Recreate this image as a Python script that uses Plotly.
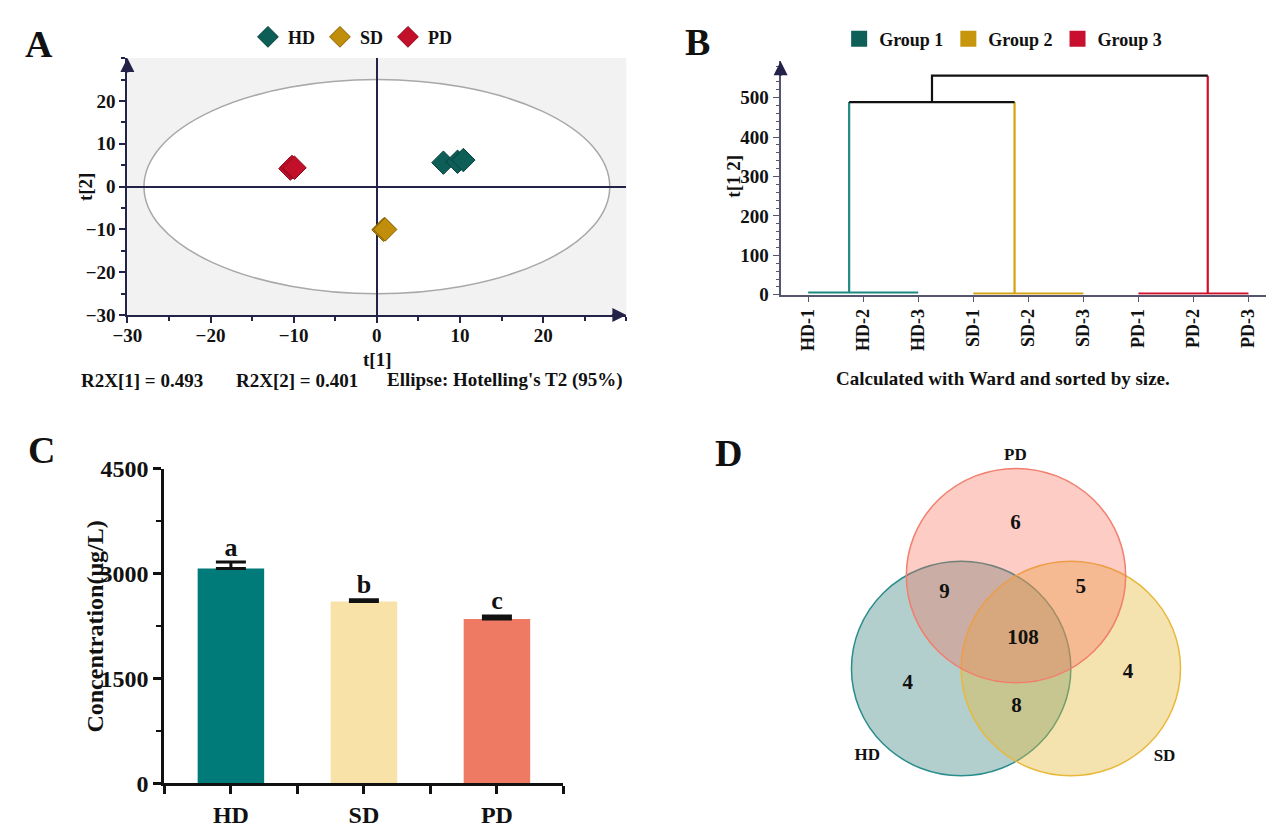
import numpy as np
import plotly.graph_objects as go

FONT = "Liberation Serif, Times New Roman, serif"
W, H = 1266, 828
NAVY = "#23234a"

# ---------------- data ----------------
# Panel A: PCA scores
hd_t1 = [8.0, 9.7, 10.4]
hd_t2 = [5.6, 5.8, 6.2]
sd_t1 = [0.8, 0.9, 1.0]
sd_t2 = [-10.1, -9.9, -10.0]
pd_t1 = [-10.4, -10.2, -9.9]
pd_t2 = [4.2, 4.6, 4.4]
r2x = [0.493, 0.401]
hotelling_t1 = 28.0
hotelling_t2 = 25.0

# Panel B: dendrogram (Ward)
leaf_labels = ["HD-1", "HD-2", "HD-3", "SD-1", "SD-2", "SD-3", "PD-1", "PD-2", "PD-3"]
group_names = ["Group 1", "Group 2", "Group 3"]
group_leaf_first = [1, 4, 7]
group_leaf_last = [3, 6, 9]
group_within_height = [5.9, 3.4, 3.4]
group_stem_x = [1.745, 4.75, 8.26]
merge12_height = 488.7
merge12_x = 3.25
merge123_height = 555.6

# Panel C: concentration
conc_groups = ["HD", "SD", "PD"]
conc_mean = [3072, 2602, 2349]
conc_err = [93, 24, 46]
sig_letters = ["a", "b", "c"]

# Panel D: Venn counts
venn_sets = ["PD", "HD", "SD"]
venn_only = [6, 4, 4]          # PD only, HD only, SD only
venn_pd_hd = 9
venn_pd_sd = 5
venn_hd_sd = 8
venn_all = 108

# ---------------- styles ----------------
grp_marker = {"HD": "#0E5E58", "SD": "#C08E0A", "PD": "#C3102A"}
grp_edge = {"HD": "#07403b", "SD": "#8a6405", "PD": "#8a0a1c"}
dendro_colors = ["#1F8A80", "#D4A20C", "#D0102A"]
legend_sq = ["#0D5F58", "#C8960C", "#C8102E"]
bar_colors = ["#007B7A", "#F8E2A8", "#EF7A63"]
venn_fill = {"PD": "rgba(245,110,90,0.35)", "HD": "rgba(20,105,100,0.32)", "SD": "rgba(230,185,55,0.40)"}
venn_line = {"PD": "#F07F6E", "HD": "#2A8C8C", "SD": "#E8B83C"}


def px(xp):
    return xp / W


def py(yp):
    return 1 - yp / H


fig = go.Figure()

# ---------------- Panel A ----------------
for name, xs, ys in [("HD", hd_t1, hd_t2), ("SD", sd_t1, sd_t2), ("PD", pd_t1, pd_t2)]:
    fig.add_trace(go.Scatter(
        x=xs, y=ys, mode="markers", name=name, legend="legend",
        marker=dict(symbol="diamond", size=18, color=grp_marker[name],
                    line=dict(color=grp_edge[name], width=1)),
        xaxis="x", yaxis="y", cliponaxis=False))

# ---------------- Panel B ----------------
for i, g in enumerate(group_names):
    c = dendro_colors[i]
    xs = [group_leaf_first[i], group_leaf_last[i], None,
          group_stem_x[i], group_stem_x[i]]
    top = merge12_height if i < 2 else merge123_height
    ys = [group_within_height[i], group_within_height[i], None,
          group_within_height[i], top]
    fig.add_trace(go.Scatter(x=xs, y=ys, mode="lines", line=dict(color=c, width=2.2),
                             showlegend=False, xaxis="x2", yaxis="y2", hoverinfo="skip"))
bx = [group_stem_x[0], group_stem_x[1], None, merge12_x, merge12_x, group_stem_x[2]]
by = [merge12_height, merge12_height, None, merge12_height, merge123_height, merge123_height]
fig.add_trace(go.Scatter(x=bx, y=by, mode="lines", line=dict(color="#111111", width=2.2),
                         showlegend=False, xaxis="x2", yaxis="y2", hoverinfo="skip"))
for i, g in enumerate(group_names):
    fig.add_trace(go.Scatter(x=[None], y=[None], mode="markers", name=g, legend="legend2",
                             marker=dict(symbol="square", size=17, color=legend_sq[i]),
                             xaxis="x2", yaxis="y2"))

# ---------------- Panel C ----------------
cx = list(range(len(conc_groups)))
fig.add_trace(go.Bar(
    x=cx, y=conc_mean, width=0.5, marker=dict(color=bar_colors, line=dict(width=0)),
    error_y=dict(type="data", symmetric=False, array=conc_err, arrayminus=[0] * 3,
                 color="#111111", thickness=3, width=15),
    showlegend=False, xaxis="x3", yaxis="y3"))
fig.add_trace(go.Scatter(
    x=cx, y=[m + e for m, e in zip(conc_mean, conc_err)], mode="text",
    text=sig_letters, textposition="top center",
    textfont=dict(size=26, family=FONT, color="#111111", weight="bold"),
    showlegend=False, xaxis="x3", yaxis="y3", cliponaxis=False))

# ---------------- Panel D ----------------
d = 1 / np.sqrt(3)
centers = {"PD": (0.0, d), "HD": (-0.5, -d / 2), "SD": (0.5, -d / 2)}
venn_shapes = []
for s in ["HD", "SD", "PD"]:
    cxx, cyy = centers[s]
    venn_shapes.append(dict(type="circle", xref="x4", yref="y4",
                            x0=cxx - 1, x1=cxx + 1, y0=cyy - 1, y1=cyy + 1,
                            fillcolor=venn_fill[s], line=dict(color=venn_line[s], width=1.5),
                            layer="below"))
region_pos = [(-0.005, 1.064), (-0.987, -0.430), (1.022, -0.332),
              (-0.652, 0.418), (0.591, 0.463), (0.004, -0.644), (0.064, -0.012)]
region_vals = venn_only + [venn_pd_hd, venn_pd_sd, venn_hd_sd, venn_all]
fig.add_trace(go.Scatter(
    x=[p[0] for p in region_pos], y=[p[1] for p in region_pos], mode="text",
    text=[str(v) for v in region_vals],
    textfont=dict(size=21, family=FONT, color="#111111", weight="bold"),
    showlegend=False, xaxis="x4", yaxis="y4", cliponaxis=False))
set_pos = [(-0.005, 1.699), (-1.356, -1.105), (1.354, -1.114)]
fig.add_trace(go.Scatter(
    x=[p[0] for p in set_pos], y=[p[1] for p in set_pos], mode="text",
    text=venn_sets,
    textfont=dict(size=17, family=FONT, color="#111111", weight="bold"),
    showlegend=False, xaxis="x4", yaxis="y4", cliponaxis=False))

# ---------------- shapes for panel A ----------------
shapes = [
    dict(type="rect", xref="x domain", yref="y domain", x0=0, x1=1, y0=0, y1=1,
         fillcolor="#f2f2f2", line=dict(width=0), layer="below"),
    dict(type="circle", xref="x", yref="y", x0=-hotelling_t1, x1=hotelling_t1,
         y0=-hotelling_t2, y1=hotelling_t2, fillcolor="white",
         line=dict(color="#a8a8a8", width=1.5), layer="below"),
] + venn_shapes


# ---------------- annotations ----------------
def txt(x, y, s, size=19, angle=0, **kw):
    d_ = dict(x=px(x), y=py(y), xref="paper", yref="paper", text=s, showarrow=False,
              textangle=angle, font=dict(size=size, family=FONT, color="#111111", weight="bold"),
              xanchor="center", yanchor="middle")
    d_.update(kw)
    return d_


def arrow(x, y, xr, yr, ax, ay, color):
    return dict(x=x, y=y, xref=xr, yref=yr, ax=ax, ay=ay, text="", showarrow=True,
                arrowhead=2, arrowsize=1.4, arrowwidth=2, arrowcolor=color, standoff=0)


annotations = [
    txt(24, 32, "A", size=38),
    txt(691, 30, "B", size=38),
    txt(27, 452, "C", size=38),
    txt(722, 455, "D", size=38),
    txt(366, 359, "t[1]"),
    txt(72, 180, "t[2]", angle=-90),
    txt(129, 380, f"R2X[1] = {r2x[0]:.3f}"),
    txt(285, 380, f"R2X[2] = {r2x[1]:.3f}"),
    txt(496, 380, "Ellipse: Hotelling's T2 (95%)"),
    txt(727, 169, "t[1 2]", angle=-90),
    txt(1000, 378, "Calculated with Ward and sorted by size."),
    txt(80, 635, "Concentration(μg/L)", size=24, angle=-90),
    arrow(30, -30, "x", "y", -16, 0, NAVY),
    arrow(-30, 30, "x", "y", 0, 16, NAVY),
    arrow(0.5, 592, "x2", "y2", 0, 16, NAVY),
]

tickfont19 = dict(size=19, family=FONT, color="#111111", weight="bold")
tickfont24 = dict(size=24, family=FONT, color="#111111", weight="bold")

fig.update_layout(
    width=W, height=H, margin=dict(l=0, r=0, t=0, b=0),
    paper_bgcolor="white", plot_bgcolor="rgba(0,0,0,0)",
    font=dict(family=FONT, size=18, color="#111111", weight="bold"),
    shapes=shapes, annotations=annotations,
    legend=dict(x=px(342), y=py(25), xanchor="center", yanchor="middle", orientation="h",
                font=dict(size=18, family=FONT, color="#111111", weight="bold"),
                bgcolor="rgba(0,0,0,0)", itemwidth=30, tracegroupgap=0),
    legend2=dict(x=px(1000), y=py(27), xanchor="center", yanchor="middle", orientation="h",
                 font=dict(size=18, family=FONT, color="#111111", weight="bold"),
                 bgcolor="rgba(0,0,0,0)", itemwidth=30, tracegroupgap=0),
    # Panel A
    xaxis=dict(domain=[px(113.7), px(618.7)], range=[-30, 30], anchor="y",
               tickvals=[-30, -20, -10, 0, 10, 20], showline=True, linecolor=NAVY, linewidth=2,
               ticks="outside", ticklen=6, tickwidth=1.5, tickcolor=NAVY, ticklabelstandoff=-4,
               minor=dict(tick0=0, dtick=5, ticks="outside", ticklen=4, tickcolor=NAVY),
               zeroline=True, zerolinecolor=NAVY, zerolinewidth=1.5, showgrid=False,
               tickfont=tickfont19),
    yaxis=dict(domain=[py(312.7), py(46.7)], range=[-30, 30], anchor="x",
               tickvals=[-30, -20, -10, 0, 10, 20], showline=True, linecolor=NAVY, linewidth=2,
               ticks="outside", ticklen=6, tickwidth=1.5, tickcolor=NAVY,
               minor=dict(tick0=0, dtick=5, ticks="outside", ticklen=4, tickcolor=NAVY),
               zeroline=True, zerolinecolor=NAVY, zerolinewidth=1.5, showgrid=False,
               tickfont=tickfont19),
    # Panel B
    xaxis2=dict(domain=[px(774.8), 1.0], range=[0.5, 9.318], anchor="y2",
                tickvals=list(range(1, 10)), ticktext=leaf_labels, tickangle=-90,
                showline=True, linecolor="#55556e", linewidth=2,
                ticks="outside", ticklen=5, tickcolor="#55556e",
                zeroline=False, showgrid=False,
                tickfont=dict(size=18, family=FONT, color="#111111", weight="bold")),
    yaxis2=dict(domain=[py(291.7), py(50)], range=[0, 592], anchor="x2",
                tickvals=[0, 100, 200, 300, 400, 500], showline=True, linecolor="#55556e", linewidth=2,
                ticks="outside", ticklen=6, tickcolor="#55556e",
                minor=dict(tick0=0, dtick=20, ticks="outside", ticklen=3, tickcolor="#55556e"),
                zeroline=False, showgrid=False, tickfont=tickfont19),
    # Panel C
    xaxis3=dict(domain=[px(151.2), px(555)], range=[-0.5, 2.5], anchor="y3",
                tickvals=cx, ticktext=conc_groups, showline=True, linecolor="#111111", linewidth=3,
                ticks="outside", ticklen=8, tickwidth=2.5, tickcolor="#111111",
                minor=dict(tick0=0.5, dtick=1, ticks="outside", ticklen=8, tickwidth=2.5, tickcolor="#111111"),
                zeroline=False, showgrid=False, tickfont=tickfont24),
    yaxis3=dict(domain=[py(797.3), py(471.7)], range=[0, 4500], anchor="x3",
                tickvals=[0, 1500, 3000, 4500], showline=True, linecolor="#111111", linewidth=3,
                ticks="outside", ticklen=8, tickwidth=2.5, tickcolor="#111111",
                minor=dict(tick0=0, dtick=750, ticks="outside", ticklen=5, tickwidth=2, tickcolor="#111111"),
                zeroline=False, showgrid=False, tickfont=tickfont24),
    # Panel D
    xaxis4=dict(domain=[px(840), px(1190)], range=[-(1013 - 840) / 111, (1190 - 1013) / 111],
                anchor="y4", visible=False, showgrid=False, zeroline=False),
    yaxis4=dict(domain=[py(800), py(440)], range=[-(800 - 646.4) / 111, (646.4 - 440) / 111],
                anchor="x4", visible=False, showgrid=False, zeroline=False),
)

fig.write_html("out.html", config={"displayModeBar": False},
               post_script="document.body.style.margin='0';document.body.style.overflow='hidden';")
